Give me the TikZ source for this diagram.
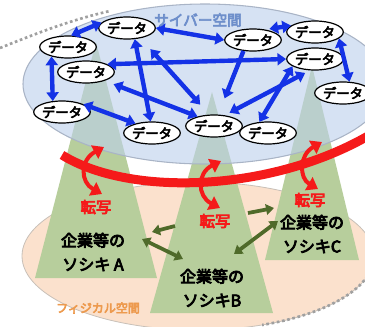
\documentclass[tikz,border=0pt]{standalone}
\usepackage{fontspec}
\newfontfamily\jp{Noto Sans CJK JP}
\usetikzlibrary{arrows.meta,shapes.geometric}
\definecolor{cyberfill}{HTML}{BDD0EB}
\definecolor{cyberline}{HTML}{A9B4C6}
\definecolor{physfill}{HTML}{FBE1CD}
\definecolor{physline}{HTML}{C8C0B8}
\definecolor{conefill}{HTML}{B7CE9C}
\definecolor{dblue}{HTML}{1432E6}
\definecolor{tred}{HTML}{F51A1A}
\definecolor{olivegr}{HTML}{4F6A2A}
\definecolor{cybertext}{HTML}{6E8FCB}
\definecolor{phystext}{HTML}{ED9A4E}
\definecolor{dotgray}{HTML}{A0A0A0}
\begin{document}
\begin{tikzpicture}[x=0.75pt,y=-0.75pt,
  heavy/.style={execute at begin node={\special{pdf:literal direct 2 Tr #1 w}},
                execute at end node={\special{pdf:literal direct 0 Tr}}},
  data/.style={ellipse, draw=black, line width=0.9pt, fill=white, minimum width=39pt, minimum height=16.5pt, inner sep=0pt, font=\jp\fontsize{10}{10}\selectfont, heavy=0.45},
  blink/.style={draw=dblue, line width=3.3pt, arrows={Triangle[width=9pt,length=6.5pt]-Triangle[width=9pt,length=6.5pt]}},
  blinkone/.style={draw=dblue, line width=3.3pt, arrows={-Triangle[width=9pt,length=6.5pt]}},
  tarrow/.style={draw=tred, line width=3pt, arrows={Triangle[width=11pt,length=8pt]-Triangle[width=11pt,length=8pt]}},
  garrow/.style={draw=olivegr, line width=2.8pt, arrows={-Triangle[width=8pt,length=6pt]}},
  gdouble/.style={draw=olivegr, line width=2.8pt, arrows={Triangle[width=8pt,length=6pt]-Triangle[width=8pt,length=6pt]}},
  lbl/.style={align=center, font=\jp\fontsize{12}{18}\selectfont, text=black, inner sep=0pt, heavy=0.6},
  tlbl/.style={font=\jp\fontsize{11.5}{13}\selectfont, text=tred, inner sep=0pt, heavy=0.6},
  dotline/.style={draw=dotgray, line width=2pt, dash pattern=on 2pt off 2pt}
]
\useasboundingbox (0,0) rectangle (365,326);
\clip (0,0) rectangle (365,326);

% dotted frame
\coordinate (f1) at (0,48);
\coordinate (f2) at (110,11);
\draw[dotline] (f1) .. controls (35,34) and (70,20) .. (f2);

% physical space
\fill[physfill] (198,256) ellipse [x radius=176, y radius=74];
\draw[physline, line width=0.6pt] (198,256) ellipse [x radius=176, y radius=74];
\begin{scope}
\clip (262,262) rectangle (365,326);
\draw[dotline] (198,256) ellipse [x radius=176, y radius=74];
\end{scope}

% cones
\fill[conefill] (96,42) -- (157,278) -- (35,278) -- cycle;
\fill[conefill] (212,92) -- (273,313) -- (150,313) -- cycle;
\fill[conefill] (312,66) -- (359,260) -- (265,260) -- cycle;

% cyber space
\fill[cyberfill, fill opacity=0.62] (205,84) ellipse [x radius=182, y radius=80];
\draw[cyberline, line width=0.8pt] (205,84) ellipse [x radius=182, y radius=80];

% data nodes
\node[data] (d1) at (127,28) {データ};
\node[data] (d2) at (68,47) {データ};
\node[data] (d3) at (253,40) {データ};
\node[data] (d4) at (315,32) {データ};
\node[data] (d5) at (315,59) {データ};
\node[data] (d6) at (86,72) {データ};
\node[data] (d7) at (343,93) {データ};
\node[data] (d8) at (62,112) {データ};
\node[data] (d9) at (152,133) {データ};
\node[data] (d10) at (214,126) {データ};
\node[data] (d11) at (268,133) {データ};

% blue links
\draw[blink] (d2.75) -- (d1.168);
\draw[blink] (d1.east) -- (d3.west);
\draw[blink, shorten <=3pt] (d3.40) -- (d4.165);
\draw[blink] (d4.-15) -- (d7.60);
\draw[blink] (d2.-150) -- (d8.130);
\draw[blink] (d6.20) -- (d5.180);
\draw[blink] (d1.-55) -- (d9.97);
\draw[blink, shorten <=11pt, shorten >=10pt] (d1.-37) -- (d10.113);
\draw[blink, shorten <=7pt] (d6.-25) -- (d10.150);
\draw[blink] (d8.20) -- (d9.150);
\draw[blinkone, shorten >=13pt] (d3.-131) -- (d10.70);
\draw[blink] (d5.-162) -- (d11.128);
\draw[blink, shorten <=4pt, shorten >=4pt] (d5.-114) -- (d10.45);

% cyber label
\node[font=\jp\fontsize{11}{12}\selectfont, text=cybertext, heavy=0.5] (cyb) at (198,20) {サイバー空間};

% red transfer band
\coordinate (ra) at (62,155);
\coordinate (rb) at (368,136);
\draw[tred, line width=6.75pt] (ra) .. controls (130,197) and (270,192) .. (rb);

\coordinate (ta1) at (104,147);
\coordinate (ta2) at (102,194);
\draw[tarrow] (ta1) .. controls (80,160) and (80,182) .. (ta2);
\coordinate (tb1) at (221,161);
\coordinate (tb2) at (220,208);
\draw[tarrow] (tb1) .. controls (197,173) and (197,196) .. (tb2);
\coordinate (tc1) at (322,142);
\coordinate (tc2) at (318,189);
\draw[tarrow] (tc1) .. controls (299,155) and (299,178) .. (tc2);

\node[tlbl] (t1) at (96,207) {転写};
\node[tlbl] (t2) at (215,221) {転写};
\node[tlbl] (t3) at (310,200) {転写};

% organisation labels
\node[lbl] (la) at (93,252) {企業等の\\ソシキ A};
\node[lbl] (lb) at (212,288) {企業等の\\ソシキB};
\node[lbl] (lc) at (312,234) {企業等の\\ソシキC};

% green links
\coordinate (g1a) at (175,226);
\coordinate (g1b) at (152,232);
\draw[garrow] (g1a) -- (g1b);
\coordinate (g2a) at (248,213);
\coordinate (g2b) at (274,208);
\draw[garrow] (g2a) -- (g2b);
\coordinate (g3a) at (142,239);
\coordinate (g3b) at (183,259);
\draw[gdouble] (g3a) -- (g3b);
\coordinate (g4a) at (234,254);
\coordinate (g4b) at (278,221);
\draw[gdouble] (g4a) -- (g4b);

% physical label
\node[font=\jp\fontsize{9}{10}\selectfont, text=phystext, heavy=0.45] (phy) at (98,308) {フィジカル空間};
\end{tikzpicture}
\end{document}
